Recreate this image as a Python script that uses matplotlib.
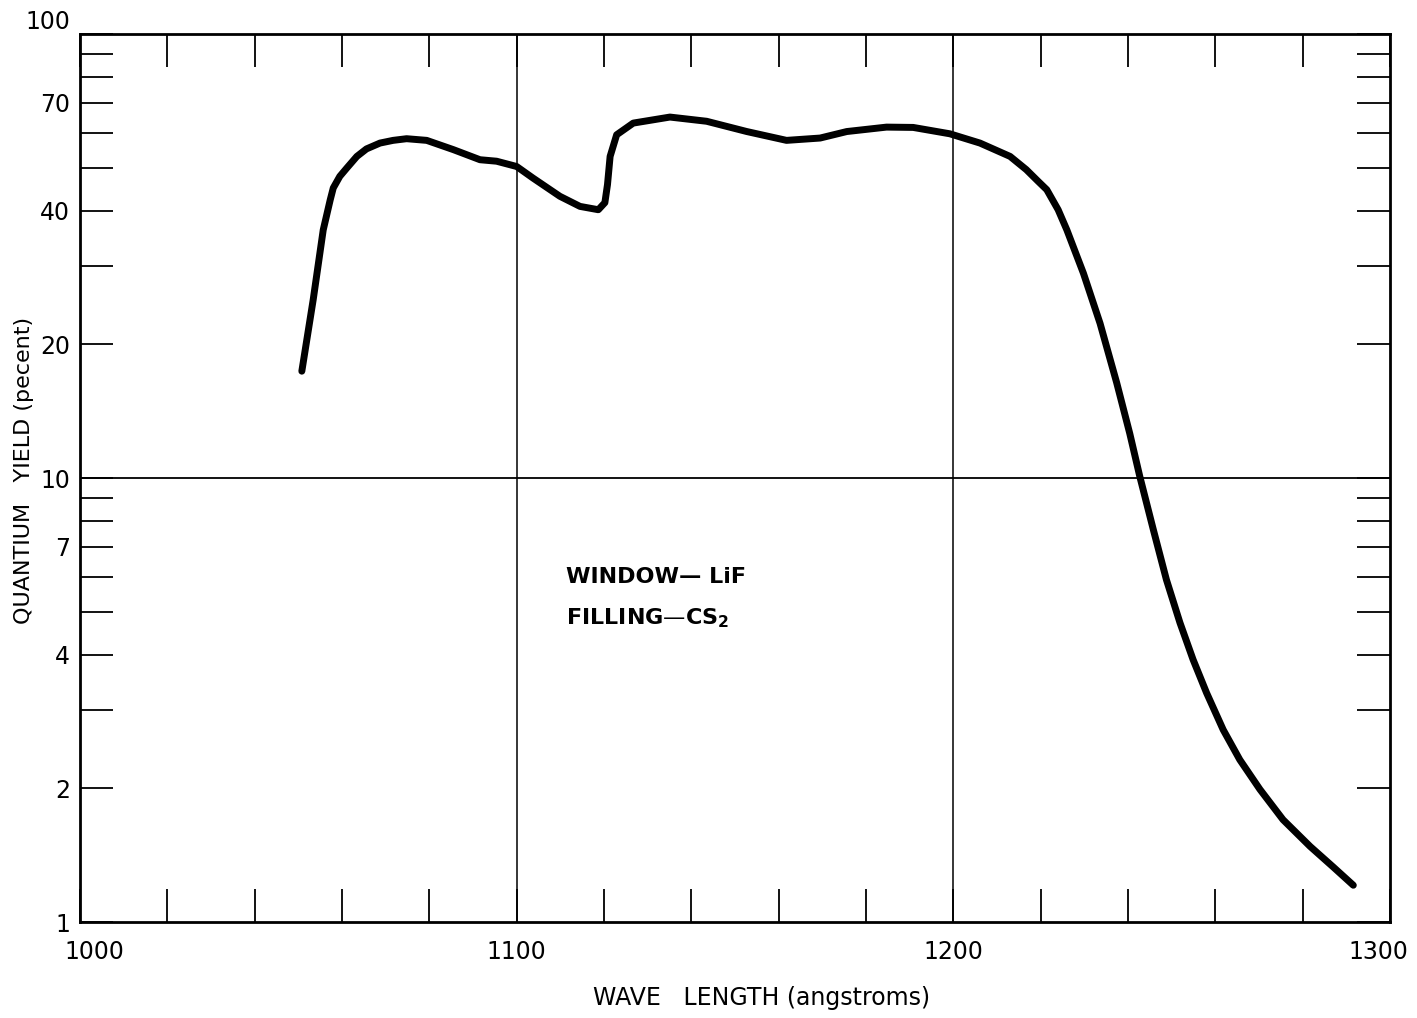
import matplotlib
matplotlib.use("Agg")
import matplotlib.pyplot as plt
from matplotlib.ticker import FixedLocator, FixedFormatter, NullLocator
from matplotlib.transforms import ScaledTranslation

# ---- data ----
wavelength = [1050.8, 1053.4, 1055.7, 1057.3, 1058.0, 1059.5, 1061.1, 1063.4, 1065.6,
              1068.7, 1071.7, 1074.8, 1079.4, 1085.5, 1091.6, 1095.4, 1100.0, 1103.7,
              1109.9, 1114.5, 1118.7, 1120.2, 1120.8, 1121.4, 1122.9, 1126.7, 1135.1,
              1143.5, 1152.7, 1161.8, 1169.5, 1175.6, 1184.7, 1190.8, 1199.2, 1206.1,
              1213.0, 1216.7, 1219.4, 1221.4, 1224.0, 1226.0, 1229.8, 1233.6, 1237.4,
              1240.4, 1242.7, 1245.8, 1248.8, 1251.9, 1254.9, 1258.0, 1261.8, 1265.6,
              1270.2, 1275.5, 1281.7, 1287.0, 1291.6]
quantum_yield = [17.4, 25.2, 36.2, 42.3, 45.0, 47.8, 49.9, 53.0, 55.1,
                 56.8, 57.6, 58.1, 57.6, 54.9, 52.1, 51.7, 50.3, 47.4,
                 43.1, 40.9, 40.2, 41.7, 45.8, 53.0, 59.3, 63.0, 65.0,
                 63.6, 60.3, 57.6, 58.3, 60.3, 61.7, 61.6, 59.6, 56.8,
                 53.0, 49.5, 46.6, 44.6, 40.2, 36.2, 28.9, 22.3, 16.4,
                 12.6, 10.08, 7.65, 5.90, 4.72, 3.90, 3.28, 2.71, 2.32,
                 1.99, 1.70, 1.48, 1.33, 1.21]

x_ticks = list(range(1000, 1301, 20))
x_tick_labels = {1000: "1000", 1100: "1100", 1200: "1200", 1300: "1300"}
y_ticks = [1, 2, 3, 4, 5, 6, 7, 8, 9, 10, 20, 30, 40, 50, 60, 70, 80, 90, 100]
y_tick_labels = {1: "1", 2: "2", 4: "4", 7: "7", 10: "10", 20: "20", 40: "40", 70: "70", 100: "100"}
x_grid = [1100, 1200]
y_grid = [10]

W, H = 1417, 1018
fig = plt.figure(figsize=(W / 100, H / 100), dpi=100)
ax = fig.add_axes([80 / W, 1 - 922 / H, 1310 / W, 888 / H])

ax.plot(wavelength, quantum_yield, color="black", lw=5.0,
        solid_joinstyle="round", solid_capstyle="round", zorder=3)

ax.set_yscale("log")
ax.set_xlim(1000, 1300)
ax.set_ylim(1, 100)

for xg in x_grid:
    ax.axvline(xg, color="black", lw=1.1, zorder=1)
for yg in y_grid:
    ax.axhline(yg, color="black", lw=1.3, zorder=1)

ax.xaxis.set_major_locator(FixedLocator(x_ticks))
ax.xaxis.set_major_formatter(FixedFormatter([x_tick_labels.get(t, "") for t in x_ticks]))
ax.xaxis.set_minor_locator(NullLocator())
ax.yaxis.set_major_locator(FixedLocator(y_ticks))
ax.yaxis.set_major_formatter(FixedFormatter([y_tick_labels.get(t, "") for t in y_ticks]))
ax.yaxis.set_minor_locator(NullLocator())

ax.tick_params(axis="both", which="major", direction="in", length=24, width=1.3,
               top=True, right=True, labelsize=17, colors="black")
ax.tick_params(axis="y", pad=7)
ax.tick_params(axis="x", pad=13)

for s in ax.spines.values():
    s.set_linewidth(2.0)

fig.canvas.draw()
ylabs = ax.get_yticklabels()
ylabs[-1].set_verticalalignment("bottom")
xlabs = ax.get_xticklabels()
xlabs[0].set_transform(xlabs[0].get_transform() + ScaledTranslation(14 / 100, 0, fig.dpi_scale_trans))
xlabs[-1].set_transform(xlabs[-1].get_transform() + ScaledTranslation(-12 / 100, 0, fig.dpi_scale_trans))

fig.text(762 / W, 1 - 998 / H, "WAVE   LENGTH (angstroms)", ha="center", va="center",
         fontsize=17)
fig.text(24 / W, 1 - 470 / H, "QUANTIUM   YIELD (pecent)", ha="center", va="center",
         rotation=90, fontsize=16)

fig.text(566 / W, 1 - 577 / H, "WINDOW— LiF", ha="left", va="center",
         fontsize=16, fontweight="bold")
fig.text(566 / W, 1 - 618 / H, r"FILLING—CS$_\mathbf{2}$", ha="left", va="center",
         fontsize=16, fontweight="bold")

fig.savefig("out.png", dpi=100, facecolor="white")
